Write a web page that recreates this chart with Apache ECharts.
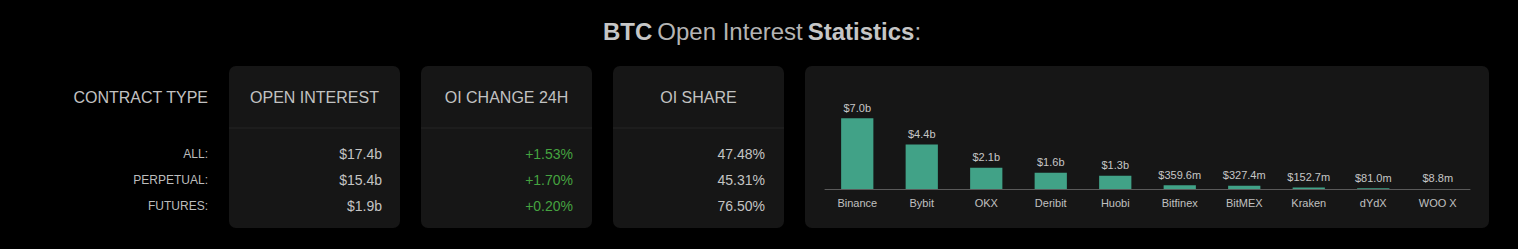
<!DOCTYPE html>
<html>
<head>
<meta charset="utf-8">
<script src="https://cdn.jsdelivr.net/npm/echarts@6/dist/echarts.min.js"></script>
<style>
  html, body { margin: 0; padding: 0; background: #000; }
  #chart { width: 1518px; height: 249px; }
</style>
</head>
<body>
<div id="chart"></div>
<script>
// ---- data ----
const titleParts = ['BTC', 'Open Interest', 'Statistics'];
const columnHeaders = ['CONTRACT TYPE', 'OPEN INTEREST', 'OI CHANGE 24H', 'OI SHARE'];
const contractTypes = ['ALL:', 'PERPETUAL:', 'FUTURES:'];
const openInterestB = [17.4, 15.4, 1.9];        // USD billions
const oiChange24hPct = [1.53, 1.70, 0.20];       // percent
const oiSharePct = [47.48, 45.31, 76.50];        // percent
const exchanges = ['Binance', 'Bybit', 'OKX', 'Deribit', 'Huobi', 'Bitfinex', 'BitMEX', 'Kraken', 'dYdX', 'WOO X'];
const exchangeOIm = [7000, 4400, 2100, 1600, 1300, 359.6, 327.4, 152.7, 81.0, 8.8]; // USD millions

// ---- formatting ----
const fmtUsd = m => m >= 1000 ? '$' + (m / 1000).toFixed(1) + 'b' : '$' + m.toFixed(1) + 'm';
const fmtB = b => '$' + b.toFixed(1) + 'b';
const fmtChg = p => (p >= 0 ? '+' : '') + p.toFixed(2) + '%';
const fmtPct = p => p.toFixed(2) + '%';

// ---- layout ----
const FONT = '"Liberation Sans", Arial, sans-serif';
const cardY = 66, cardH = 162, cardW = 171;
const cardXs = [229, 421, 613];
const headerY = 97;
const rowYs = [154, 180, 206];
const labelRight = 208;
const cardBg = '#161616';

const graphics = [];
// table cards
cardXs.forEach(x => {
  graphics.push({ type: 'rect', shape: { x: x, y: cardY, width: cardW, height: cardH, r: 7 }, style: { fill: cardBg }, silent: true });
  graphics.push({ type: 'rect', shape: { x: x, y: 127, width: cardW, height: 2 }, style: { fill: '#1d1d1d' }, silent: true });
});
// chart card
graphics.push({ type: 'rect', shape: { x: 805, y: cardY, width: 684, height: cardH, r: 7 }, style: { fill: cardBg }, silent: true, z: -1 });

function txt(text, x, y, align, size, color, weight) {
  graphics.push({
    type: 'text', silent: true, z: 10,
    style: { text: text, x: x, y: y, textAlign: align, textVerticalAlign: 'middle',
             font: (weight || 'normal') + ' ' + size + 'px ' + FONT, fill: color }
  });
}
// headers
txt(columnHeaders[0], labelRight, headerY, 'right', 16, '#c2c2c2');
cardXs.forEach((x, i) => txt(columnHeaders[i + 1], x + cardW / 2, headerY, 'center', 16, '#c2c2c2'));
// rows
contractTypes.forEach((c, r) => {
  txt(c, labelRight, rowYs[r], 'right', 12, '#bdbdbd');
  txt(fmtB(openInterestB[r]), cardXs[0] + cardW - 18, rowYs[r], 'right', 14, '#c4c4c4');
  txt(fmtChg(oiChange24hPct[r]), cardXs[1] + cardW - 19, rowYs[r], 'right', 14, '#45a340');
  txt(fmtPct(oiSharePct[r]), cardXs[2] + cardW - 19, rowYs[r], 'right', 14, '#c4c4c4');
});

const chart = echarts.init(document.getElementById('chart'), null, { renderer: 'svg', width: 1518, height: 249 });
chart.setOption({
  backgroundColor: '#000',
  animation: false,
  title: {
    text: '{b|' + titleParts[0] + '} {r|' + titleParts[1] + '} {b|' + titleParts[2] + '}{r|:}',
    left: 598, top: 12,
    textStyle: {
      fontWeight: 'normal',
      rich: {
        b: { fontFamily: FONT, fontSize: 24, fontWeight: 'bold', color: '#c6c6c6', lineHeight: 28 },
        r: { fontFamily: FONT, fontSize: 24, fontWeight: 'normal', color: '#b4b4b4', lineHeight: 28 }
      }
    }
  },
  graphic: graphics,
  grid: { left: 825, width: 645, top: 88, height: 101 },
  xAxis: {
    type: 'category', data: exchanges,
    axisLine: { lineStyle: { color: '#5a5a5a', width: 1 } },
    axisTick: { alignWithLabel: true, length: 7, lineStyle: { color: '#5a5a5a' } },
    axisLabel: { color: '#c0c0c0', fontSize: 11, fontFamily: FONT, margin: 8 }
  },
  yAxis: { type: 'value', min: 0, max: 10000, show: false },
  series: [{
    type: 'bar', data: exchangeOIm, barWidth: '50%',
    itemStyle: { color: '#41a287' },
    label: { show: true, position: 'top', distance: 5, color: '#c6c6c6', fontSize: 11, fontFamily: FONT,
             formatter: p => fmtUsd(p.value) }
  }]
});
</script>
</body>
</html>
